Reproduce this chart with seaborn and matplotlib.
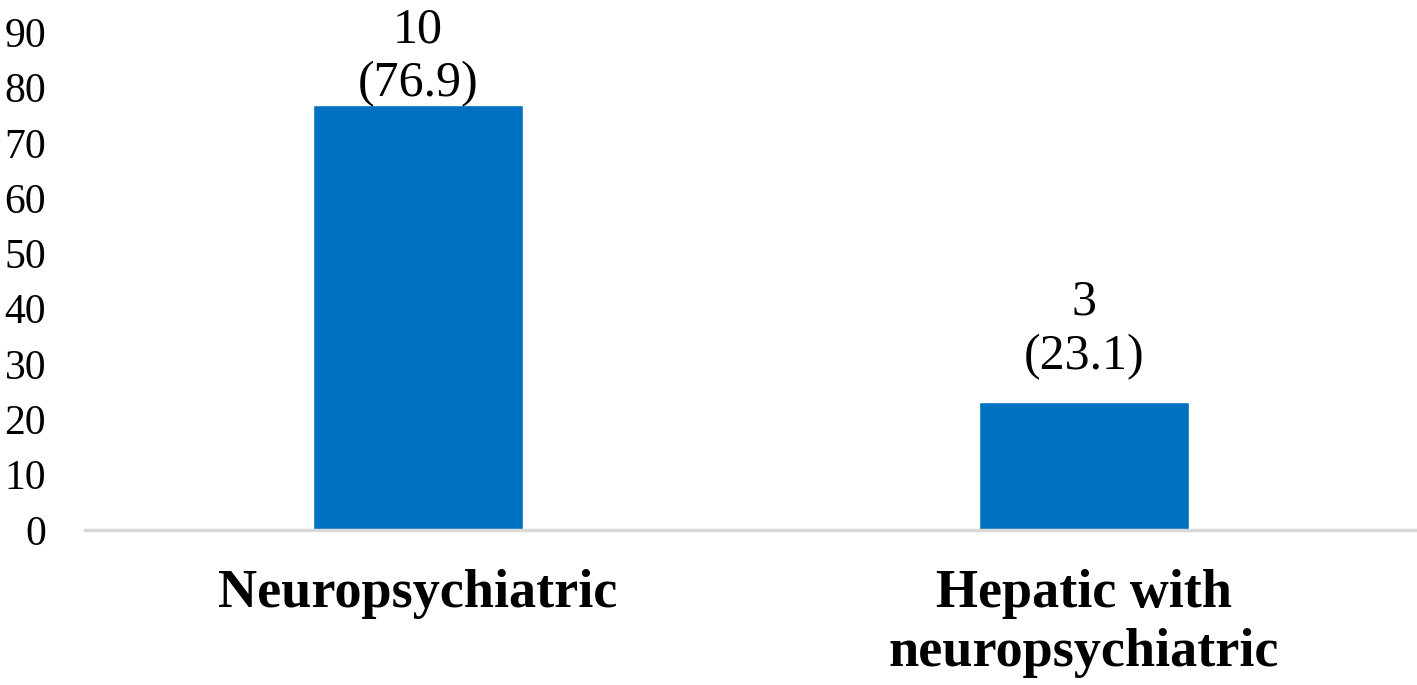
import matplotlib
matplotlib.use("Agg")
import matplotlib.pyplot as plt
import pandas as pd
import seaborn as sns

categories = ["Neuropsychiatric", "Hepatic with\nneuropsychiatric"]
counts = [10, 3]
percents = [76.9, 23.1]

df = pd.DataFrame({"group": categories, "pct": percents})

sns.set_style("white")
plt.rcParams["font.family"] = ["Liberation Serif", "DejaVu Serif"]
plt.rcParams["text.color"] = "black"
plt.rcParams["xtick.color"] = "black"
plt.rcParams["ytick.color"] = "black"

fig = plt.figure(figsize=(14.17, 6.85), dpi=100)
ax = fig.add_axes([0.06, 0.2263, 0.94, 0.7267])

sns.barplot(data=df, x="group", y="pct", color="#0070C0", saturation=1,
            width=0.314, ax=ax)

# label offsets above each bar (points)
offsets = [-2, 16]
for i, (n, p) in enumerate(zip(counts, percents)):
    ax.annotate(f"{n}\n({p})", (i, p), xytext=(0, offsets[i]),
                textcoords="offset points", ha="center", va="bottom",
                fontsize=36, linespacing=1.22, annotation_clip=False)

ax.set_ylim(0, 90)
ax.set_xlim(-0.5, 1.5)
ax.set_yticks(range(0, 91, 10))
ax.set_xlabel("")
ax.set_ylabel("")
ax.tick_params(axis="y", labelsize=30, length=0, pad=28)
ax.tick_params(axis="x", labelsize=39, length=0, pad=28)
for lbl in ax.get_xticklabels():
    lbl.set_fontweight("bold")
    lbl.set_linespacing(1.25)

sns.despine(ax=ax, left=True, top=True, right=True)
ax.spines["bottom"].set_color("#d9d9d9")
ax.spines["bottom"].set_linewidth(2.5)

fig.savefig("out.png", dpi=100)
